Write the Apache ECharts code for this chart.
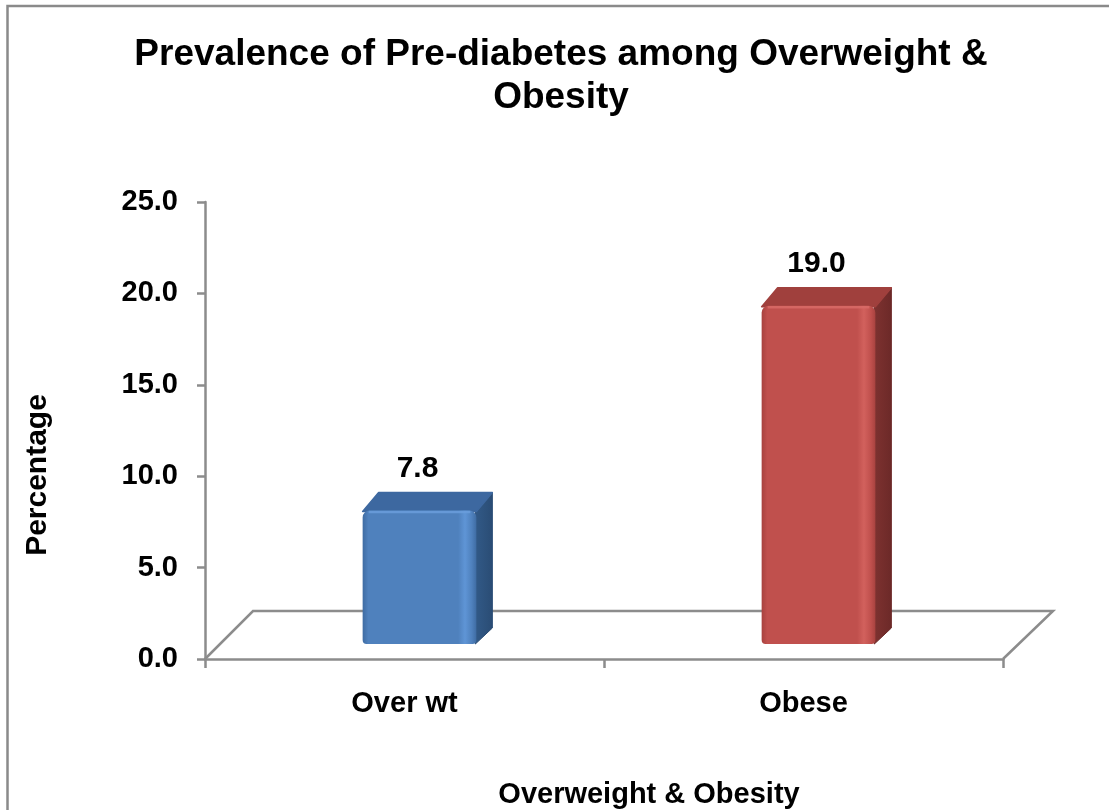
<!DOCTYPE html>
<html>
<head>
<meta charset="utf-8">
<title>Prevalence of Pre-diabetes among Overweight &amp; Obesity</title>
<script src="https://cdn.jsdelivr.net/npm/echarts@6/dist/echarts.min.js"></script>
<style>
  html, body { margin: 0; padding: 0; background: #ffffff; }
  #chart { width: 1109px; height: 810px; }
</style>
</head>
<body>
<div id="chart"></div>
<script>
// ---- data ----
const categories = ['Over wt', 'Obese'];
const prevalence = [7.8, 19.0];
const yMin = 0;
const yMax = 25;
const yStep = 5;

// ---- look ----
const FONT = '"Liberation Sans", Arial, Helvetica, sans-serif';
const AXIS_GREY = '#8c8c8c';
const barPalettes = [
  { front: '#4f81bd', edgeDark: '#3f6ca3', shine: '#5f95d6', side: '#325a88', sideDark: '#2a4c74', top: '#3d68a0', rim: '#6a9ddc' },
  { front: '#c0504d', edgeDark: '#a8423f', shine: '#d2615d', side: '#7e3230', sideDark: '#6c2928', top: '#a0403d', rim: '#d86b67' }
];

// oblique depth of the floor and of each column
const FLOOR_DX = 48, FLOOR_DY = -48, FLOOR_EXTRA_RIGHT = 2;
const BAR_SHIFT = 15;       // columns stand half way into the floor depth
const BAR_TOP_LIFT = 6;
const BAR_DX = 16, BAR_DY = -18;
const BAR_WIDTH_RATIO = 0.285;

const chart = echarts.init(document.getElementById('chart'), null, { renderer: 'canvas' });

function renderFloor(params) {
  const cs = params.coordSys;
  const xl = cs.x, xr = cs.x + cs.width, yb = cs.y + cs.height;
  return {
    type: 'polyline',
    shape: {
      points: [
        [xl, yb],
        [xl + FLOOR_DX, yb + FLOOR_DY],
        [xr + FLOOR_DX + FLOOR_EXTRA_RIGHT, yb + FLOOR_DY],
        [xr, yb]
      ]
    },
    style: { stroke: AXIS_GREY, lineWidth: 2.5, fill: null }
  };
}

function renderColumn(params, api) {
  const idx = api.value(0);
  const val = api.value(1);
  const pal = barPalettes[params.dataIndex % barPalettes.length];
  const topPt = api.coord([idx, val]);
  const basePt = api.coord([idx, 0]);
  const w = api.size([1, 0])[0] * BAR_WIDTH_RATIO;
  const cx = basePt[0] + BAR_SHIFT;
  const x0 = cx - w / 2, x1 = cx + w / 2;
  const yTop = topPt[1] - BAR_TOP_LIFT;
  const yBot = basePt[1] - BAR_SHIFT;

  // side face drawn first, top face over it, front face last
  const sideFace = {
    type: 'polygon',
    shape: { points: [[x1 - 1, yTop], [x1 + BAR_DX, yTop + BAR_DY], [x1 + BAR_DX, yBot + BAR_DY + 2], [x1 - 1, yBot]] },
    style: {
      fill: new echarts.graphic.LinearGradient(0, 0, 1, 0, [
        { offset: 0, color: pal.side },
        { offset: 1, color: pal.sideDark }
      ]),
      stroke: pal.sideDark,
      lineWidth: 1,
      lineJoin: 'round'
    }
  };
  const topFace = {
    type: 'polygon',
    shape: { points: [[x0, yTop + 1], [x0 + BAR_DX, yTop + BAR_DY], [x1 + BAR_DX, yTop + BAR_DY], [x1, yTop + 1]] },
    style: { fill: pal.top, stroke: pal.top, lineWidth: 1.5, lineJoin: 'round' }
  };
  const frontFace = {
    type: 'rect',
    shape: { x: x0, y: yTop, width: w, height: yBot - yTop, r: [7, 7, 4, 4] },
    style: {
      fill: new echarts.graphic.LinearGradient(0, 0, 1, 0, [
        { offset: 0, color: pal.edgeDark },
        { offset: 0.05, color: pal.front },
        { offset: 0.84, color: pal.front },
        { offset: 0.9, color: pal.shine },
        { offset: 0.96, color: pal.front },
        { offset: 1, color: pal.edgeDark }
      ])
    }
  };
  const rimLine = {
    type: 'line',
    shape: { x1: x0 + 6, y1: yTop + 1.5, x2: x1 - 6, y2: yTop + 1.5 },
    style: { stroke: pal.rim, lineWidth: 2.5, opacity: 0.85 }
  };
  const label = {
    type: 'text',
    x: cx - 2,
    y: yTop - 42,
    style: {
      text: val.toFixed(1),
      font: 'bold 30px ' + FONT,
      fill: '#000000',
      align: 'center',
      verticalAlign: 'middle'
    }
  };
  return { type: 'group', children: [sideFace, topFace, frontFace, rimLine, label] };
}

const option = {
  animation: false,
  backgroundColor: '#ffffff',
  title: [
    {
      text: 'Prevalence of Pre-diabetes among Overweight &\nObesity',
      left: 556,
      top: 28,
      textAlign: 'center',
      textStyle: { fontFamily: FONT, fontSize: 37, fontWeight: 'bold', color: '#000', lineHeight: 43 }
    },
    {
      text: 'Overweight & Obesity',
      left: 644,
      top: 774,
      textAlign: 'center',
      textStyle: { fontFamily: FONT, fontSize: 29, fontWeight: 'bold', color: '#000', lineHeight: 32 }
    }
  ],
  graphic: [
    {
      type: 'rect',
      z: -10,
      shape: { x: 7.5, y: 6, width: 1200, height: 1000 },
      style: { fill: 'none', stroke: '#8a8a8a', lineWidth: 2.5 }
    },
    {
      type: 'text',
      x: 38,
      y: 475,
      rotation: Math.PI / 2,
      style: {
        text: 'Percentage',
        font: 'bold 30px ' + FONT,
        fill: '#000',
        align: 'center',
        verticalAlign: 'middle'
      }
    }
  ],
  grid: { left: 205, right: 106, top: 202, bottom: 151, containLabel: false },
  xAxis: {
    type: 'category',
    data: categories,
    axisLine: { show: true, lineStyle: { color: AXIS_GREY, width: 2.5 } },
    axisTick: { show: true, length: 9, lineStyle: { color: AXIS_GREY, width: 2.5 } },
    axisLabel: { fontFamily: FONT, fontSize: 29, fontWeight: 'bold', color: '#000', margin: 30 },
    splitLine: { show: false }
  },
  yAxis: {
    type: 'value',
    min: yMin,
    max: yMax,
    interval: yStep,
    axisLine: { show: true, lineStyle: { color: AXIS_GREY, width: 2.5 } },
    axisTick: { show: true, length: 8, lineStyle: { color: AXIS_GREY, width: 2.5 } },
    axisLabel: {
      fontFamily: FONT, fontSize: 29, fontWeight: 'bold', color: '#000', margin: 27,
      formatter: v => v.toFixed(1)
    },
    splitLine: { show: false }
  },
  series: [
    {
      type: 'custom',
      name: 'floor',
      z: 1,
      clip: false,
      silent: true,
      renderItem: renderFloor,
      data: [[0, 0]]
    },
    {
      type: 'custom',
      name: 'Prevalence',
      z: 3,
      clip: false,
      renderItem: renderColumn,
      encode: { x: 0, y: 1 },
      data: categories.map((c, i) => [i, prevalence[i]])
    }
  ]
};

chart.setOption(option);
</script>
</body>
</html>
